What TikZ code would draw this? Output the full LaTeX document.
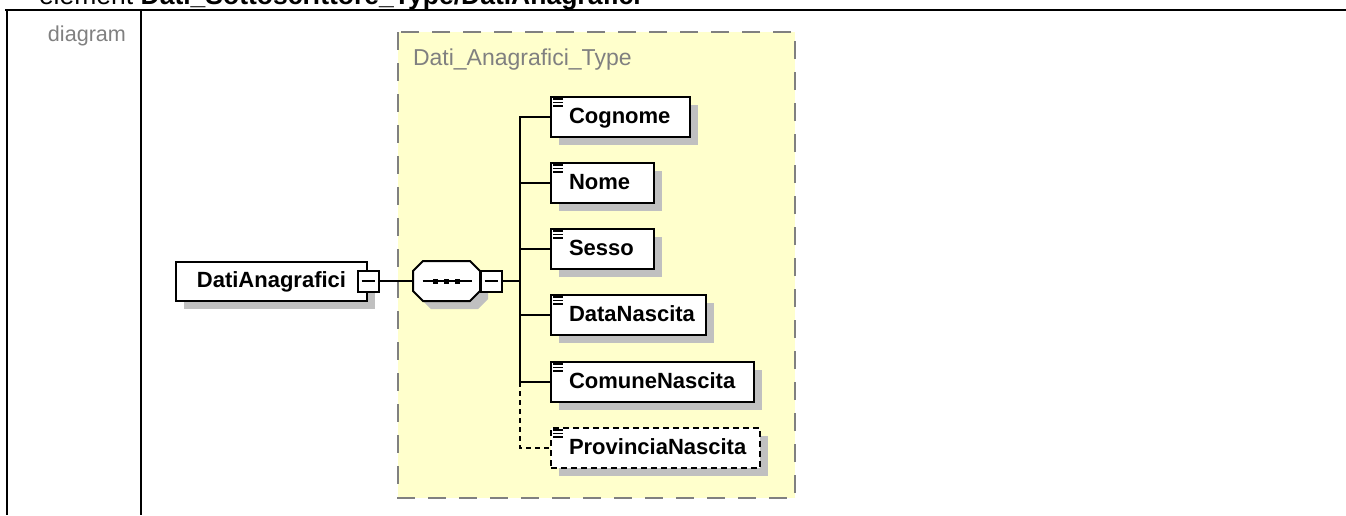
\documentclass[tikz,border=0pt]{standalone}
\usepackage{fontspec}
\setmainfont{Liberation Sans}
\usetikzlibrary{shadows}
\definecolor{boxyellow}{RGB}{255,255,204}
\definecolor{framegray}{RGB}{128,128,128}
\definecolor{shadowgray}{RGB}{192,192,192}

\begin{document}
\begin{tikzpicture}[
  x=1pt, y=-1pt,
  line width=2pt,
  eshadow/.style={drop shadow={shadow xshift=8pt,shadow yshift=-8pt,fill=shadowgray,opacity=1}},
  root/.style={draw,fill=white,eshadow,minimum width=191pt,minimum height=39pt,inner sep=0pt,
    text height=16pt,text depth=4pt,font=\fontsize{22}{26}\selectfont\bfseries},
  elem/.style={draw,fill=white,eshadow,anchor=west,minimum height=40pt,inner ysep=0pt,inner xsep=18pt,
    align=left,text height=16pt,text depth=4pt,font=\fontsize{22}{26}\selectfont\bfseries,
    path picture={
      \draw[solid,line width=1.2pt] ([xshift=2pt,yshift=-2pt]path picture bounding box.north west) -- ++(10pt,0pt);
      \draw[solid,line width=1.2pt] ([xshift=2pt,yshift=-5.5pt]path picture bounding box.north west) -- ++(10pt,0pt);
      \draw[solid,line width=1.2pt] ([xshift=2pt,yshift=-9pt]path picture bounding box.north west) -- ++(10pt,0pt);}},
  oelem/.style={elem,dash pattern=on 6pt off 4pt},
  minbox/.style={draw,fill=white,minimum size=21pt,inner sep=0pt,
    path picture={\draw[line width=1.5pt] ([xshift=4pt]path picture bounding box.west) -- ([xshift=-4pt]path picture bounding box.east);}},
  seq/.style={minimum width=68pt,minimum height=40pt,inner sep=0pt},
  graylbl/.style={text=framegray,inner sep=0pt}
]
  \useasboundingbox (0,0) rectangle (1346,515);

  % frame of the table
  \node[anchor=base west,inner sep=0pt,font=\fontsize{26.5}{30}\selectfont] (title) at (38,4)
    {element \textbf{Dati\_Sottoscrittore\_Type/DatiAnagrafici}};
  \draw (5,10) -- (1346,10);
  \draw (7,10) -- (7,515);
  \draw (141,10) -- (141,515);
  \node[graylbl,anchor=base east,font=\fontsize{21.6}{26}\selectfont] (dlabel) at (127,41.5) {diagram};

  % complex type area
  \draw[framegray,fill=boxyellow,dash pattern=on 18pt off 13pt] (398,32) rectangle (795,498);
  \node[graylbl,anchor=base west,font=\fontsize{23}{27}\selectfont] (tname) at (412,65) {Dati\_Anagrafici\_Type};

  \node[root] (root) at (271.5,281) {DatiAnagrafici};
  \node[minbox] (rootm) at (root.east) {};

  % sequence compositor
  \fill[shadowgray,shift={(8,8)}] (413,271) -- (423,261) -- (470,261) -- (480,271)
    -- (480,291) -- (470,301) -- (423,301) -- (413,291) -- cycle;
  \draw[fill=white] (413,271) -- (423,261) -- (470,261) -- (480,271)
    -- (480,291) -- (470,301) -- (423,301) -- (413,291) -- cycle;
  \node[seq] (seq) at (446.5,281) {};
  \draw[line width=1.5pt] ([xshift=-24pt]seq.center) -- ([xshift=25pt]seq.center);
  \fill ([xshift=-13.5pt,yshift=-2.5pt]seq.center) rectangle ++(5pt,5pt);
  \fill ([xshift=-2.5pt,yshift=-2.5pt]seq.center) rectangle ++(5pt,5pt);
  \fill ([xshift=8.5pt,yshift=-2.5pt]seq.center) rectangle ++(5pt,5pt);
  \node[minbox,anchor=west] (seqm) at (479.5,281) {};
  \coordinate (bus) at (520,281);

  \node[elem,text width=103pt] (e1) at (550,117) {Cognome};
  \node[elem,text width=67pt] (e2) at (550,183) {Nome};
  \node[elem,text width=67pt] (e3) at (550,249) {Sesso};
  \node[elem,text width=119pt] (e4) at (550,315) {DataNascita};
  \node[elem,text width=167pt] (e5) at (550,382) {ComuneNascita};
  \node[oelem,text width=173pt] (e6) at (550,448) {ProvinciaNascita};

  \draw (rootm) -- (seq);
  \draw (seqm) -- (bus);
  \draw (bus) |- (e1.west);
  \draw (bus) |- (e2.west);
  \draw (bus) |- (e3.west);
  \draw (bus) |- (e4.west);
  \draw (bus) |- (e5.west);
  \draw[dash pattern=on 5pt off 4pt] (bus |- e5.west) |- (e6.west);
\end{tikzpicture}
\end{document}
